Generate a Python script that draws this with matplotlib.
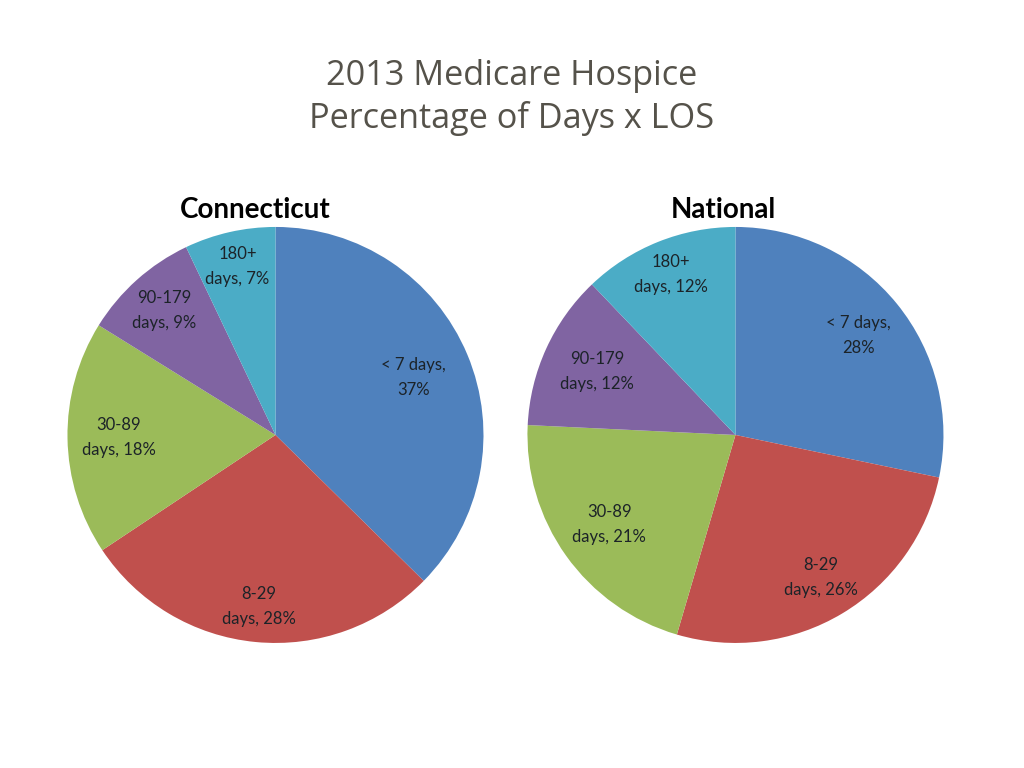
import numpy as np
import matplotlib.pyplot as plt

# Data
categories = ['< 7 days', '8-29\ndays', '30-89\ndays', '90-179\ndays', '180+\ndays']
ct_values = [37, 28, 18, 9, 7]
nat_values = [28, 26, 21, 12, 12]

colors = ['#4F81BD', '#C0504D', '#9BBB59', '#8064A2', '#4BACC6']

# label radial distance per slice (fraction of radius), matches Excel best-fit placement
ct_label_r = [0.72, 0.83, 0.755, 0.80, 0.83]
nat_label_r = [0.76, 0.80, 0.745, 0.73, 0.83]

label_font = 'Lato'


def draw_pie(ax, values, label_r):
    wedges, _ = ax.pie(values, colors=colors, startangle=90, counterclock=False,
                       radius=1.0, wedgeprops=dict(linewidth=0))
    for w, cat, v, rr in zip(wedges, categories, values, label_r):
        ang = np.deg2rad((w.theta1 + w.theta2) / 2)
        if '\n' in cat:
            txt = f'{cat}, {v}%'
        else:
            txt = f'{cat},\n{v}%'
        ax.text(rr * np.cos(ang), rr * np.sin(ang), txt, ha='center', va='center',
                fontsize=12, family=label_font, color='#1c2328', linespacing=1.7)
    ax.set_xlim(-1, 1)
    ax.set_ylim(-1, 1)
    ax.set_aspect('equal')
    ax.axis('off')


fig = plt.figure(figsize=(10.24, 7.68), dpi=100)

ax1 = fig.add_axes([0.0659, 0.1628, 0.40625, 0.5417])
ax2 = fig.add_axes([0.5151, 0.1628, 0.40625, 0.5417])
draw_pie(ax1, ct_values, ct_label_r)
draw_pie(ax2, nat_values, nat_label_r)

fig.text(255 / 1024, 1 - 210 / 768, 'Connecticut', ha='center', va='center',
         fontsize=20, fontweight='bold', family=label_font, color='black')
fig.text(723 / 1024, 1 - 210 / 768, 'National', ha='center', va='center',
         fontsize=20, fontweight='bold', family=label_font, color='black')

fig.text(0.5, 1 - 76 / 768, '2013 Medicare Hospice', ha='center', va='center',
         fontsize=24.7, family='Open Sans', color='#55524a')
fig.text(0.5, 1 - 118 / 768, 'Percentage of Days x LOS', ha='center', va='center',
         fontsize=24.7, family='Open Sans', color='#55524a')

fig.savefig('out.png', dpi=100)
